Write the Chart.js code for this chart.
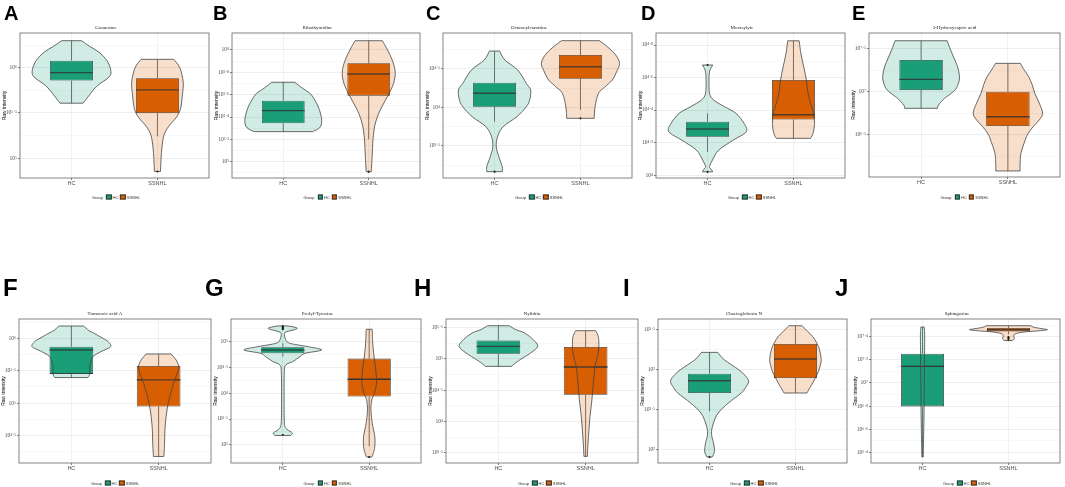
<!DOCTYPE html>
<html>
<head>
<meta charset="utf-8">
<script src="https://cdn.jsdelivr.net/npm/chart.js@4.4.1/dist/chart.umd.min.js"></script>
<style>
html, body { margin: 0; padding: 0; background: #fff; }
body { width: 1065px; height: 487px; position: relative; overflow: hidden; font-family: "Liberation Sans", Arial, sans-serif; }
canvas { position: absolute; }
.letter { position: absolute; font-weight: bold; line-height: 1; color: #000; font-family: "Liberation Sans", Arial, sans-serif; }
.legend { position: absolute; transform: translate(-50%, -50%); display: flex; align-items: center; font-size: 4px; color: #333; white-space: nowrap; }
.legend .key { display: inline-block; width: 5.5px; height: 4.5px; box-sizing: border-box; border: 0.6px solid #333; margin: 0 1px 0 2px; }
</style>
</head>
<body>
<script>
// ---- data (values are log10 of raw intensity) ----
var groups = ['HC', 'SSNHL'];
var panelLetters = ['A', 'B', 'C', 'D', 'E', 'F', 'G', 'H', 'I', 'J'];
var metabolites = ['Guanosine', 'Ribothymidine', 'Octanoylcarnitine', 'Moxisylyte', '3-Hydroxycapric acid',
                   'Tumonoic acid A', 'Prolyl-Tyrosine', 'Nylidrin', 'Chaetoglobosin N', 'Sphingosine'];

var yLimits = [[4.78, 6.383], [2.854, 4.152], [3.082, 4.965], [3.982, 4.874], [6.008, 7.683],
               [4.077, 6.297], [2.648, 5.439], [3.336, 5.64], [1.834, 3.634], [6.31, 7.552]];
var yMajorTicks = [[5, 5.5, 6], [3, 3.2, 3.4, 3.6, 3.8, 4], [3.5, 4, 4.5], [4, 4.2, 4.4, 4.6, 4.8], [6.5, 7, 7.5],
                   [4.5, 5, 5.5, 6], [3, 3.5, 4, 4.5, 5], [3.5, 4, 4.5, 5, 5.5], [2, 2.5, 3, 3.5], [6.4, 6.6, 6.8, 7, 7.2, 7.4]];

// box stats: [whisker low, q1, median, q3, whisker high]
var hcBox = [[5.607, 5.857, 5.945, 6.077, 6.298], [3.269, 3.344, 3.457, 3.546, 3.711], [3.813, 4.008, 4.182, 4.32, 4.731],
             [4.143, 4.236, 4.283, 4.328, 4.38], [6.807, 7.02, 7.144, 7.369, 7.593], [5.394, 5.451, 5.82, 5.871, 6.189],
             [4.71, 4.775, 4.839, 4.892, 4.969], [4.882, 5.085, 5.202, 5.298, 5.533], [2.479, 2.709, 2.863, 2.95, 3.217],
             [6.362, 6.798, 7.143, 7.253, 7.483]];
var ssnhlBox = [[5.24, 5.497, 5.754, 5.883, 6.092], [3.2, 3.591, 3.785, 3.881, 4.083], [3.965, 4.371, 4.527, 4.679, 4.865],
                [4.226, 4.342, 4.371, 4.585, 4.826], [6.078, 6.601, 6.709, 7.0, 7.33], [4.178, 4.948, 5.358, 5.574, 5.758],
                [2.97, 3.936, 4.272, 4.671, 5.24], [3.442, 4.429, 4.872, 5.192, 5.453], [2.709, 2.896, 3.134, 3.321, 3.55],
                [7.42, 7.445, 7.459, 7.474, 7.494]];
var hcOutliers = [[], [], [3.164], [4.677, 4.02], [], [], [5.30, 5.28, 5.26, 5.24, 3.19], [], [1.909], []];
var ssnhlOutliers = [[4.852], [2.911], [3.857], [], [], [], [2.764], [], [], [7.395, 7.385, 7.37]];

// violin outlines: [value, half width in x units], top to bottom
var hcViolin = [
  [[6.298,0.115],[6.23,0.22],[6.17,0.32],[6.08,0.41],[5.98,0.455],[5.90,0.44],[5.80,0.30],[5.70,0.21],[5.607,0.135]],
  [[3.711,0.135],[3.66,0.22],[3.61,0.315],[3.55,0.37],[3.49,0.41],[3.42,0.44],[3.37,0.45],[3.32,0.44],[3.29,0.40],[3.269,0.34]],
  [[4.731,0.06],[4.614,0.12],[4.484,0.27],[4.31,0.37],[4.225,0.42],[4.1,0.41],[4.008,0.37],[3.878,0.26],[3.748,0.1],[3.618,0.035],[3.488,0.02],[3.358,0.05],[3.229,0.09],[3.164,0.09]],
  [[4.677,0.06],[4.64,0.025],[4.585,0.017],[4.503,0.023],[4.462,0.07],[4.42,0.2],[4.38,0.33],[4.318,0.425],[4.266,0.45],[4.215,0.3],[4.154,0.13],[4.092,0.057],[4.051,0.023],[4.035,0.045],[4.02,0.06]],
  [[7.593,0.3],[7.485,0.34],[7.39,0.38],[7.291,0.42],[7.2,0.44],[7.136,0.44],[7.07,0.42],[7.02,0.39],[6.96,0.32],[6.923,0.27],[6.845,0.2],[6.807,0.19]],
  [[6.189,0.143],[6.12,0.2],[6.077,0.26],[6.0,0.36],[5.948,0.42],[5.871,0.45],[5.794,0.34],[5.72,0.25],[5.63,0.22],[5.563,0.21],[5.45,0.21],[5.394,0.19]],
  [[5.304,0.06],[5.27,0.16],[5.24,0.15],[5.2,0.06],[5.162,0.02],[5.05,0.03],[4.969,0.08],[4.903,0.29],[4.839,0.45],[4.775,0.26],[4.71,0.2],[4.613,0.115],[4.549,0.035],[4.4,0.017],[3.8,0.015],[3.4,0.02],[3.3,0.05],[3.23,0.11],[3.182,0.09]],
  [[5.533,0.124],[5.47,0.2],[5.416,0.3],[5.309,0.4],[5.202,0.45],[5.096,0.37],[4.989,0.25],[4.93,0.19],[4.882,0.15]],
  [[3.217,0.095],[3.125,0.17],[3.0,0.34],[2.92,0.42],[2.854,0.455],[2.78,0.42],[2.709,0.37],[2.584,0.22],[2.459,0.1],[2.334,0.046],[2.229,0.023],[2.15,0.03],[2.084,0.046],[1.979,0.057],[1.909,0.03]],
  [[7.483,0.02],[7.4,0.025],[7.2,0.022],[7.0,0.02],[6.8,0.018],[6.6,0.014],[6.45,0.01],[6.362,0.008]]
];
var ssnhlViolin = [
  [[6.092,0.19],[6.0,0.26],[5.84,0.30],[5.7,0.29],[5.55,0.27],[5.45,0.22],[5.35,0.13],[5.25,0.075],[5.1,0.05],[4.95,0.04],[4.852,0.035]],
  [[4.083,0.16],[4.0,0.22],[3.9,0.28],[3.8,0.31],[3.7,0.29],[3.6,0.23],[3.5,0.16],[3.42,0.11],[3.32,0.07],[3.2,0.05],[3.05,0.04],[2.911,0.03]],
  [[4.865,0.22],[4.78,0.32],[4.68,0.41],[4.571,0.455],[4.46,0.42],[4.354,0.37],[4.26,0.28],[4.182,0.21],[4.008,0.17],[3.857,0.16]],
  [[4.826,0.067],[4.749,0.086],[4.666,0.12],[4.585,0.15],[4.503,0.17],[4.441,0.2],[4.38,0.235],[4.318,0.245],[4.26,0.23],[4.226,0.2]],
  [[7.33,0.143],[7.25,0.19],[7.174,0.24],[7.08,0.28],[6.981,0.31],[6.87,0.36],[6.749,0.4],[6.67,0.36],[6.593,0.29],[6.51,0.23],[6.438,0.2],[6.284,0.15],[6.15,0.14],[6.078,0.14]],
  [[5.758,0.143],[5.666,0.2],[5.563,0.23],[5.48,0.22],[5.41,0.2],[5.3,0.17],[5.205,0.15],[5.0,0.11],[4.794,0.086],[4.589,0.072],[4.385,0.068],[4.178,0.06]],
  [[5.24,0.035],[5.0,0.04],[4.8,0.05],[4.6,0.065],[4.389,0.08],[4.195,0.085],[4.0,0.06],[3.872,0.03],[3.679,0.02],[3.42,0.035],[3.162,0.065],[2.969,0.065],[2.85,0.05],[2.764,0.03]],
  [[5.453,0.115],[5.38,0.14],[5.309,0.15],[5.149,0.15],[5.0,0.13],[4.882,0.107],[4.616,0.088],[4.349,0.072],[4.082,0.05],[3.816,0.035],[3.549,0.023],[3.442,0.02]],
  [[3.55,0.077],[3.48,0.14],[3.416,0.2],[3.33,0.25],[3.25,0.28],[3.125,0.3],[3.04,0.285],[2.959,0.26],[2.834,0.2],[2.76,0.16],[2.709,0.134]],
  [[7.494,0.26],[7.48,0.3],[7.465,0.42],[7.459,0.45],[7.45,0.35],[7.44,0.18],[7.425,0.08],[7.405,0.06],[7.385,0.07],[7.367,0.05]]
];

// ---- styling / layout ----
var colors = ['#1B9E77', '#D95F02'];
var violinFills = ['rgba(27,158,119,0.2)', 'rgba(217,95,2,0.2)'];
var boxWidth = 0.5;
// plot area of each panel: left, right, top, bottom (px)
var plotBoxes = [[20,212,33,178],[232,423,33,178],[443,635,33,178],[656,848,33,178],[869,1060,33,177],
                 [19,211,319,463],[231,424,319,463],[446,638,319,463],[658,850,319,463],[871,1063,319,463]];
// letter: left, cap top, font size
var letterSpots = [[4,6,20],[213,6,20],[426,6,20],[641,6,20],[852,6,20],
                   [3,279,24],[205,279,24],[414,279,24],[623,279,24],[835,279,24]];
var legendRows = [197, 483];

var supMap = {'0':'\u2070','1':'\u00b9','2':'\u00b2','3':'\u00b3','4':'\u2074','5':'\u2075','6':'\u2076','7':'\u2077','8':'\u2078','9':'\u2079','.':'\u00b7','-':'\u207b'};
function powLabel(v) {
  var s = String(Math.round(v * 10) / 10);
  return '10' + s.split('').map(function(c){ return supMap[c]; }).join('');
}

function curveThrough(ctx, pts) {
  for (var k = 0; k < pts.length - 1; k++) {
    var p0 = pts[k - 1] || pts[k], p1 = pts[k], p2 = pts[k + 1], p3 = pts[k + 2] || p2;
    ctx.bezierCurveTo(p1.x + (p2.x - p0.x) / 6, p1.y + (p2.y - p0.y) / 6,
                      p2.x - (p3.x - p1.x) / 6, p2.y - (p3.y - p1.y) / 6, p2.x, p2.y);
  }
}

function violinPlugin(i) {
  return {
    id: 'violins' + i,
    afterDatasetsDraw: function(chart) {
      var ctx = chart.ctx, xs = chart.scales.x, ys = chart.scales.y, a = chart.chartArea;
      var boxes = [hcBox[i], ssnhlBox[i]];
      var violins = [hcViolin[i], ssnhlViolin[i]];
      ctx.save();
      ctx.beginPath();
      ctx.rect(a.left, a.top, a.right - a.left, a.bottom - a.top);
      ctx.clip();
      for (var g = 0; g < 2; g++) {
        var cx = g + 1, b = boxes[g];
        var px = xs.getPixelForValue(cx);
        // whiskers
        ctx.strokeStyle = '#333';
        ctx.lineWidth = 0.7;
        ctx.beginPath();
        ctx.moveTo(px, ys.getPixelForValue(b[0])); ctx.lineTo(px, ys.getPixelForValue(b[1]));
        ctx.moveTo(px, ys.getPixelForValue(b[3])); ctx.lineTo(px, ys.getPixelForValue(b[4]));
        ctx.stroke();
        // median
        ctx.lineWidth = 1.4;
        ctx.beginPath();
        ctx.moveTo(xs.getPixelForValue(cx - boxWidth / 2), ys.getPixelForValue(b[2]));
        ctx.lineTo(xs.getPixelForValue(cx + boxWidth / 2), ys.getPixelForValue(b[2]));
        ctx.stroke();
        // violin
        var prof = violins[g];
        var right = prof.map(function(p){ return {x: xs.getPixelForValue(cx + p[1]), y: ys.getPixelForValue(p[0])}; });
        var left = prof.slice().reverse().map(function(p){ return {x: xs.getPixelForValue(cx - p[1]), y: ys.getPixelForValue(p[0])}; });
        ctx.beginPath();
        ctx.moveTo(right[0].x, right[0].y);
        curveThrough(ctx, right);
        ctx.lineTo(left[0].x, left[0].y);
        curveThrough(ctx, left);
        ctx.closePath();
        ctx.fillStyle = violinFills[g];
        ctx.fill();
        ctx.strokeStyle = '#444';
        ctx.lineWidth = 0.8;
        ctx.stroke();
      }
      ctx.restore();
    },
    afterDraw: function(chart) {
      var ctx = chart.ctx, a = chart.chartArea;
      ctx.save();
      ctx.strokeStyle = '#777';
      ctx.lineWidth = 0.9;
      ctx.strokeRect(a.left, a.top, a.right - a.left, a.bottom - a.top);
      ctx.restore();
    }
  };
}

function makePanel(i) {
  var pb = plotBoxes[i];
  var canvas = document.createElement('canvas');
  var w = pb[1] - pb[0] + 21, h = pb[3] - pb[2] + 22;
  canvas.width = w; canvas.height = h;
  canvas.style.left = (pb[0] - 20) + 'px';
  canvas.style.top = (pb[2] - 10) + 'px';
  canvas.style.width = w + 'px'; canvas.style.height = h + 'px';
  document.body.appendChild(canvas);

  var lim = yLimits[i], majors = yMajorTicks[i];
  var step = majors[1] - majors[0];
  var tickList = [];
  for (var v = majors[0] - step / 2; v <= lim[1] + 1e-9; v += step / 2) {
    if (v >= lim[0] - 1e-9) tickList.push(Math.round(v * 1000) / 1000);
  }
  function isMajor(val) { return majors.some(function(m){ return Math.abs(m - val) < 1e-6; }); }

  var outlierPts = hcOutliers[i].map(function(v){ return {x: 1, y: v}; })
    .concat(ssnhlOutliers[i].map(function(v){ return {x: 2, y: v}; }));

  new Chart(canvas.getContext('2d'), {
    type: 'bar',
    data: {
      datasets: [
        {type: 'scatter', label: 'outliers', data: outlierPts, pointRadius: 1.1, backgroundColor: '#000', borderWidth: 0, order: 0},
        {label: groups[0], data: [{x: 1, y: [hcBox[i][1], hcBox[i][3]]}], backgroundColor: colors[0],
         borderColor: '#333', borderWidth: 0.8, borderSkipped: false, grouped: false, barPercentage: boxWidth, categoryPercentage: 1, order: 1},
        {label: groups[1], data: [{x: 2, y: [ssnhlBox[i][1], ssnhlBox[i][3]]}], backgroundColor: colors[1],
         borderColor: '#333', borderWidth: 0.8, borderSkipped: false, grouped: false, barPercentage: boxWidth, categoryPercentage: 1, order: 1}
      ]
    },
    options: {
      responsive: false,
      animation: false,
      events: [],
      layout: {padding: {left: 0, right: 1, top: 0, bottom: 0}},
      plugins: {
        legend: {display: false},
        tooltip: {enabled: false},
        title: {display: true, text: metabolites[i], color: '#222',
                font: {family: '"Liberation Serif", serif', size: 5, weight: 'normal', lineHeight: 1.2},
                padding: {top: 2, bottom: 2}}
      },
      scales: {
        x: {
          type: 'linear', min: 0.4, max: 2.6, offset: false,
          afterBuildTicks: function(s){ s.ticks = [{value: 1}, {value: 2}]; },
          afterFit: function(s){ s.height = 12; },
          ticks: {callback: function(v){ return groups[v - 1]; }, autoSkip: false, maxRotation: 0, padding: 0,
                  color: '#4d4d4d', font: {family: '"Liberation Sans", sans-serif', size: 5.5}},
          grid: {color: '#ebebeb', lineWidth: 0.7, tickLength: 2, tickColor: '#444', offset: false},
          border: {display: false}
        },
        y: {
          type: 'linear', min: lim[0], max: lim[1],
          afterBuildTicks: function(s){ s.ticks = tickList.map(function(t){ return {value: t}; }); },
          afterFit: function(s){ s.width = 20; },
          ticks: {callback: function(v){ return isMajor(v) ? powLabel(v) : ''; }, autoSkip: false, padding: 1,
                  color: '#4d4d4d', font: {family: '"Liberation Serif", serif', size: 5.5}},
          grid: {
            color: function(c){ return c.tick && isMajor(c.tick.value) ? '#e6e6e6' : '#f3f3f3'; },
            tickColor: function(c){ return c.tick && isMajor(c.tick.value) ? '#444' : 'rgba(0,0,0,0)'; },
            lineWidth: 0.7, tickLength: 2
          },
          border: {display: false},
          title: {display: true, text: 'Raw intensity', color: '#000', padding: {top: 2, bottom: 0},
                  font: {family: '"Liberation Sans", sans-serif', size: 5}}
        }
      }
    },
    plugins: [violinPlugin(i)]
  });

  // panel letter
  var ls = letterSpots[i];
  var letter = document.createElement('div');
  letter.className = 'letter';
  letter.textContent = panelLetters[i];
  letter.style.fontSize = ls[2] + 'px';
  letter.style.left = ls[0] + 'px';
  letter.style.top = (ls[1] - 0.13 * ls[2]) + 'px';
  document.body.appendChild(letter);

  // legend
  var lg = document.createElement('div');
  lg.className = 'legend';
  lg.style.left = ((pb[0] + pb[1]) / 2) + 'px';
  lg.style.top = legendRows[i < 5 ? 0 : 1] + 'px';
  var html = '<span style="margin-right:1px">Group</span>';
  groups.forEach(function(g, k){
    html += '<span class="key" style="background:' + colors[k] + '"></span><span>' + g + '</span>';
  });
  lg.innerHTML = html;
  document.body.appendChild(lg);
}

for (var p = 0; p < panelLetters.length; p++) makePanel(p);
</script>
</body>
</html>
